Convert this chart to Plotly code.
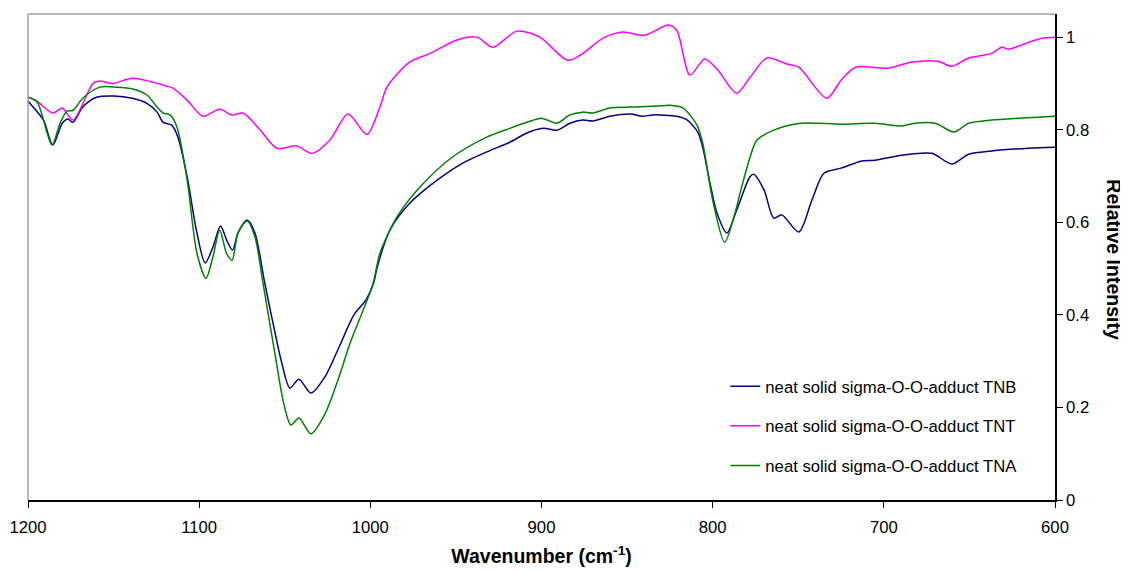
import plotly.graph_objects as go

# ---- data ----
tnb_wn = [1200, 1197, 1191, 1185.5, 1180, 1176.6, 1173.7, 1168, 1160, 1150, 1139, 1130.5, 1124.6, 1121, 1116,
          1112.4, 1107, 1101.3, 1096.5, 1092, 1087.5, 1084, 1080.5, 1077.3, 1072, 1067.4, 1062, 1058, 1051.6,
          1047, 1041.7, 1034.7, 1026.5, 1018.3, 1009.6, 1002.6, 998, 996, 988.6, 977, 961, 946, 932, 918.5,
          908.5, 899, 891, 883.4, 876, 870, 860, 848, 841, 835, 821, 815, 808.7, 805.8, 801.6, 797.5, 791.7,
          786, 778.3, 776, 770, 764.3, 759.6, 749.7, 742, 735, 725, 713.4, 705.3, 689.5, 672, 660.3, 650.4,
          637, 615.3, 600]
tnb_val = [0.862, 0.849, 0.821, 0.767, 0.814, 0.823, 0.816, 0.849, 0.870, 0.873, 0.868, 0.857, 0.838, 0.816, 0.810,
           0.784, 0.698, 0.577, 0.512, 0.546, 0.592, 0.562, 0.540, 0.577, 0.605, 0.577, 0.475, 0.402, 0.294,
           0.242, 0.261, 0.231, 0.266, 0.330, 0.400, 0.432, 0.470, 0.503, 0.583, 0.641, 0.691, 0.728, 0.752, 0.773,
           0.793, 0.803, 0.799, 0.814, 0.821, 0.819, 0.829, 0.834, 0.829, 0.832, 0.829, 0.821, 0.795, 0.762, 0.685,
           0.620, 0.577, 0.626, 0.698, 0.704, 0.670, 0.609, 0.616, 0.579, 0.648, 0.706, 0.717, 0.732, 0.734, 0.745,
           0.749, 0.726, 0.747, 0.754, 0.760, 0.762]

tnt_wn = [1200, 1195, 1185.4, 1180, 1173.7, 1162, 1158, 1150.4, 1138.7, 1118.8, 1115.3, 1107, 1097.8, 1088,
          1080.8, 1074.4, 1064.5, 1054.6, 1043, 1034, 1023.6, 1013, 1002, 994.4, 990.3, 977, 965, 949.4, 937.7,
          928.4, 914.4, 901, 884.6, 875.8, 864, 852.5, 839.6, 826, 821, 813.3, 804.6, 797, 786, 778, 768.3,
          756.7, 749.7, 733.3, 725, 716.4, 697.7, 684, 668.5, 660.3, 650.4, 637, 631, 627, 615.3, 607, 600]
tnt_val = [0.870, 0.862, 0.836, 0.847, 0.821, 0.900, 0.905, 0.900, 0.911, 0.894, 0.890, 0.864, 0.829, 0.844,
           0.832, 0.836, 0.800, 0.760, 0.765, 0.749, 0.778, 0.834, 0.790, 0.849, 0.892, 0.946, 0.965, 0.994, 1.000,
           0.978, 1.013, 1.000, 0.950, 0.965, 0.998, 1.011, 1.004, 1.026, 1.015, 0.918, 0.953, 0.929, 0.879, 0.914,
           0.955, 0.942, 0.935, 0.868, 0.907, 0.935, 0.933, 0.946, 0.948, 0.937, 0.955, 0.965, 0.978, 0.974, 0.989,
           0.998, 1.000]

tna_wn = [1200, 1194.7, 1186, 1181.3, 1177.2, 1173.7, 1168, 1158, 1148, 1138.7, 1130.5, 1124.6, 1121, 1117, 1113,
          1107, 1101.3, 1096, 1092, 1088, 1084, 1080.8, 1077.3, 1072, 1067.4, 1063, 1055.7, 1050.5, 1046.4, 1041.7,
          1034.7, 1026.5, 1018.3, 1012, 1002.6, 998.5, 994.4, 984.5, 971, 952, 932, 918.5, 908.5, 900, 891, 883.4,
          876, 870, 860, 848, 832.6, 825, 817.4, 809.2, 805.8, 800, 793, 786, 784, 778.3, 774.2, 764.3, 748.5,
          725, 705, 689.5, 682, 670, 659, 650.4, 637, 621, 600]
tna_val = [0.870, 0.860, 0.767, 0.814, 0.840, 0.842, 0.868, 0.892, 0.892, 0.888, 0.875, 0.849, 0.836, 0.832, 0.806,
           0.691, 0.533, 0.479, 0.525, 0.583, 0.533, 0.518, 0.577, 0.603, 0.568, 0.475, 0.315, 0.207, 0.162, 0.177,
           0.143, 0.186, 0.266, 0.337, 0.425, 0.465, 0.533, 0.611, 0.676, 0.741, 0.784, 0.803, 0.816, 0.825, 0.814,
           0.832, 0.838, 0.836, 0.847, 0.849, 0.851, 0.853, 0.847, 0.810, 0.771, 0.648, 0.557, 0.633, 0.663, 0.739,
           0.777, 0.799, 0.814, 0.812, 0.814, 0.808, 0.814, 0.814, 0.795, 0.814, 0.821, 0.825, 0.829]

series_names = ["neat solid sigma-O-O-adduct TNB",
                "neat solid sigma-O-O-adduct TNT",
                "neat solid sigma-O-O-adduct TNA"]
series_colors = ["#000080", "#FF00FF", "#008000"]
x_ticks = [1200, 1100, 1000, 900, 800, 700, 600]
y_ticks = [0, 0.2, 0.4, 0.6, 0.8, 1]

FONT = "Arial, Liberation Sans, sans-serif"

fig = go.Figure()
for i, (wn, val) in enumerate([(tnb_wn, tnb_val), (tnt_wn, tnt_val), (tna_wn, tna_val)]):
    fig.add_trace(go.Scatter(
        x=wn, y=val, mode="lines", name=series_names[i], legendgroup=f"g{i}",
        line=dict(color=series_colors[i], width=1.5, shape="spline", smoothing=0.8),
    ))

# The page body has an 8px margin, so the figure is 8px smaller than the window
fig.update_layout(
    width=1120, height=564,
    margin=dict(l=20, r=73, t=6, b=72, autoexpand=False),
    paper_bgcolor="white", plot_bgcolor="white",
    font=dict(family=FONT, size=16.7, color="black"),
    showlegend=True,
    legend=dict(x=0.679, xanchor="left", y=0.27, yanchor="top",
                bgcolor="rgba(0,0,0,0)", font=dict(size=16.7), tracegroupgap=15,
                traceorder="grouped"),
    xaxis=dict(range=[1200, 600], tickvals=x_ticks, ticks="outside", ticklen=6, tickcolor="black",
               showline=True, linecolor="black", linewidth=1.5, showgrid=False, zeroline=False,
               tickfont=dict(size=16.7), ticklabelstandoff=5,
               title=dict(text="<b>Wavenumber (cm<sup>-1</sup>)</b>", font=dict(size=19.5), standoff=14)),
    yaxis=dict(range=[0, 1.05], side="right", tickvals=y_ticks, ticks="outside", ticklen=6, tickcolor="black",
               showline=True, linecolor="black", linewidth=1.5, showgrid=False, zeroline=False,
               tickfont=dict(size=16.7)),
    shapes=[
        dict(type="line", xref="paper", yref="paper", x0=0, x1=0, y0=0, y1=1,
             line=dict(color="#a0a0a0", width=1.5)),
        dict(type="line", xref="paper", yref="paper", x0=0, x1=1, y0=1, y1=1,
             line=dict(color="#a0a0a0", width=1.5)),
    ],
    annotations=[
        dict(text="<b>Relative Intensity</b>", xref="paper", yref="paper", x=1.058, y=0.494,
             textangle=90, showarrow=False, font=dict(size=19.5), xanchor="center", yanchor="middle"),
    ],
)

fig.write_html("out.html")
